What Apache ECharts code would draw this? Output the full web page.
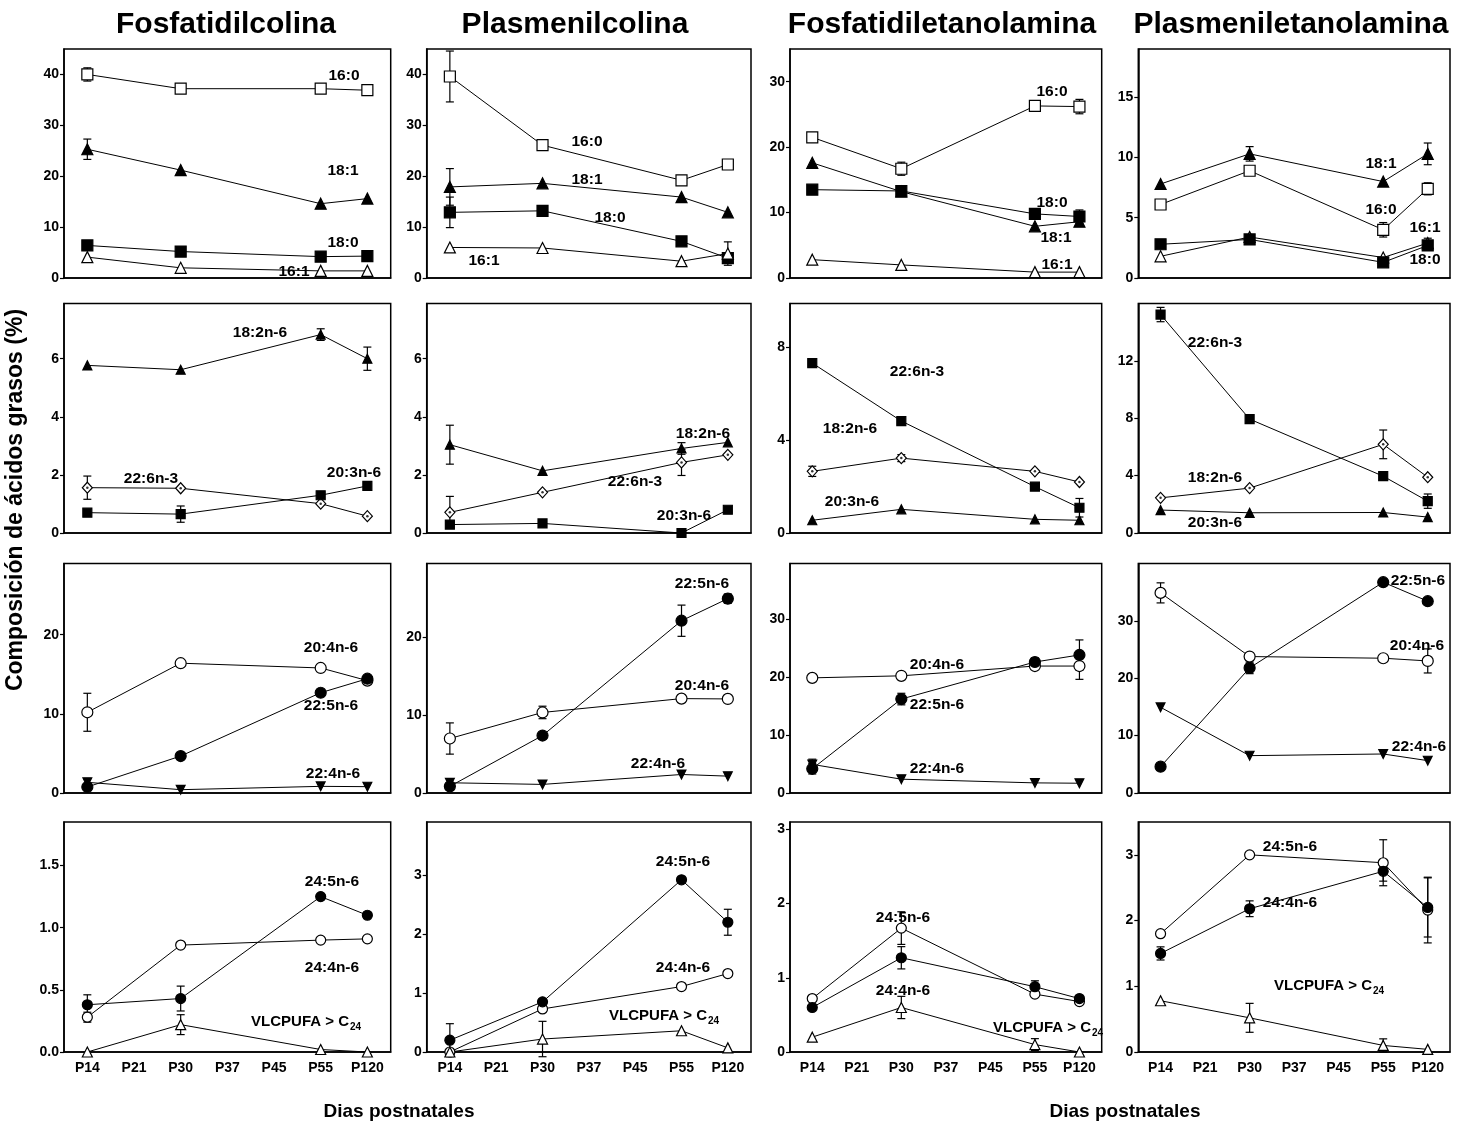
<!DOCTYPE html>
<html>
<head>
<meta charset="utf-8">
<title>Composición de ácidos grasos</title>
<script src="https://cdn.jsdelivr.net/npm/echarts@6/dist/echarts.min.js"></script>
<style>
  html, body { margin: 0; padding: 0; background: #fff; }
  #chart { width: 1462px; height: 1127px; }
</style>
</head>
<body>
<div id="chart"></div>
<script>
// eje x: todos los días, pero solo se midió en P14, P30, P55 y P120
const days = ['P14', 'P21', 'P30', 'P37', 'P45', 'P55', 'P120'];
const sampleIdx = [0, 2, 5, 6];

// Fosfatidilcolina
const pc16_0 = [40.0, 37.2, 37.2, 36.9], pc16_0Err = [1.3, 0, 0, 0];
const pc18_1 = [25.3, 21.2, 14.6, 15.6], pc18_1Err = [2.0, 0, 0, 0];
const pc18_0 = [6.4, 5.2, 4.2, 4.3];
const pc16_1 = [4.1, 2.0, 1.4, 1.4];
const pc18_2 = [5.77, 5.62, 6.83, 6.0], pc18_2Err = [0, 0, 0.2, 0.4];
const pc22_6 = [1.56, 1.54, 1.01, 0.58], pc22_6Err = [0.4, 0, 0, 0];
const pc20_3 = [0.70, 0.65, 1.30, 1.62], pc20_3Err = [0, 0.28, 0, 0];
const pc20_4 = [10.2, 16.4, 15.8, 14.2], pc20_4Err = [2.4, 0, 0, 0];
const pc22_5 = [0.76, 4.67, 12.67, 14.44];
const pc22_4 = [1.35, 0.42, 0.84, 0.80], pc22_4Err = [0.5, 0, 0, 0];
const pc24_5 = [0.38, 0.43, 1.25, 1.10], pc24_5Err = [0.08, 0.10, 0, 0];
const pc24_4 = [0.28, 0.86, 0.90, 0.91], pc24_4Err = [0.04, 0, 0, 0];
const pcVlc = [0.0, 0.22, 0.02, 0.0], pcVlcErr = [0, 0.08, 0, 0];

// Plasmenilcolina
const plc16_0 = [39.6, 26.1, 19.2, 22.3], plc16_0Err = [5.0, 0, 0, 0];
const plc18_1 = [17.9, 18.6, 15.9, 12.9], plc18_1Err = [3.6, 0, 0, 0];
const plc18_0 = [12.9, 13.2, 7.2, 3.9], plc18_0Err = [3.0, 0, 0, 0];
const plc16_1 = [6.0, 5.9, 3.3, 4.8], plc16_1Err = [0, 0, 0, 2.3];
const plc18_2 = [3.04, 2.14, 2.91, 3.12], plc18_2Err = [0.67, 0, 0.2, 0];
const plc22_6 = [0.71, 1.40, 2.43, 2.69], plc22_6Err = [0.55, 0, 0.45, 0];
const plc20_3 = [0.29, 0.33, 0.0, 0.80], plc20_3Err = [0.1, 0, 0, 0];
const plc22_5 = [0.85, 7.36, 22.07, 24.9], plc22_5Err = [0, 0, 2.0, 0.6];
const plc20_4 = [6.98, 10.32, 12.09, 12.05], plc20_4Err = [2.0, 0.8, 0, 0];
const plc22_4 = [1.31, 1.10, 2.37, 2.16];
const plc24_5 = [0.2, 0.85, 2.92, 2.2], plc24_5Err = [0.28, 0, 0, 0.22];
const plc24_4 = [0.0, 0.73, 1.11, 1.33];
const plcVlc = [0.0, 0.22, 0.36, 0.07], plcVlcErr = [0, 0.3, 0, 0];

// Fosfatidiletanolamina
const pe16_0 = [21.5, 16.7, 26.3, 26.2], pe16_0Err = [0, 1.0, 0.6, 1.1];
const pe18_1 = [17.6, 13.2, 7.9, 8.6];
const pe18_0 = [13.5, 13.3, 9.8, 9.4], pe18_0Err = [0, 0, 0, 1.0];
const pe16_1 = [2.8, 2.0, 0.9, 0.9];
const pe22_6 = [7.33, 4.83, 2.0, 1.09], pe22_6Err = [0, 0, 0, 0.4];
const pe18_2 = [2.66, 3.23, 2.66, 2.2], pe18_2Err = [0.22, 0.15, 0, 0];
const pe20_3 = [0.55, 1.02, 0.59, 0.55];
const pe20_4 = [19.92, 20.27, 21.96, 21.96], pe20_4Err = [0, 0, 0, 2.3];
const pe22_5 = [4.19, 16.25, 22.66, 23.88], pe22_5Err = [0.9, 1.0, 0.7, 2.6];
const pe22_4 = [4.95, 2.39, 1.75, 1.69], pe22_4Err = [0.9, 0, 0, 0];
const pe24_5 = [0.6, 1.27, 0.88, 0.72], pe24_5Err = [0, 0.15, 0.08, 0];
const pe24_4 = [0.72, 1.67, 0.78, 0.68], pe24_4Err = [0, 0.22, 0, 0];
const peVlc = [0.2, 0.6, 0.1, 0.0], peVlcErr = [0, 0.15, 0.08, 0];

// Plasmeniletanolamina
const ple18_1 = [7.8, 10.3, 8.0, 10.3], ple18_1Err = [0, 0.6, 0, 0.9];
const ple16_0 = [6.1, 8.9, 4.0, 7.4], ple16_0Err = [0, 0, 0.6, 0.5];
const ple18_0 = [2.8, 3.2, 1.3, 2.7];
const ple16_1 = [1.8, 3.4, 1.7, 2.9], ple16_1Err = [0, 0, 0, 0.4];
const ple22_6 = [15.23, 7.94, 3.96, 2.22], ple22_6Err = [0.5, 0, 0, 0.5];
const ple18_2 = [2.45, 3.13, 6.18, 3.89], ple18_2Err = [0, 0, 1.0, 0];
const ple20_3 = [1.6, 1.41, 1.43, 1.11];
const ple20_4 = [34.88, 23.78, 23.49, 23.02], ple20_4Err = [1.75, 0, 0.6, 2.1];
const ple22_5 = [4.59, 21.8, 36.74, 33.43], ple22_5Err = [0, 1.0, 0, 0];
const ple22_4 = [14.94, 6.51, 6.8, 5.64];
const ple24_5 = [1.5, 2.18, 2.75, 2.2], ple24_5Err = [0.1, 0.12, 0.15, 0.45];
const ple24_4 = [1.8, 3.0, 2.88, 2.16], ple24_4Err = [0, 0, 0.35, 0.5];
const pleVlc = [0.78, 0.52, 0.1, 0.04], pleVlcErr = [0, 0.22, 0.1, 0];

// escalas del eje y (por columna, fila 1..4)
const pcTicks = [[0, 10, 20, 30, 40], [0, 2, 4, 6], [0, 10, 20], [0, 0.5, 1, 1.5]];
const plcTicks = [[0, 10, 20, 30, 40], [0, 2, 4, 6], [0, 10, 20], [0, 1, 2, 3]];
const peTicks = [[0, 10, 20, 30], [0, 4, 8], [0, 10, 20, 30], [0, 1, 2, 3]];
const pleTicks = [[0, 5, 10, 15], [0, 4, 8, 12], [0, 10, 20, 30], [0, 1, 2, 3]];
const pcMax = [45, 7.9, 29, 1.85];
const plcMax = [45, 7.9, 29.4, 3.9];
const peMax = [35, 9.9, 39.7, 3.1];
const pleMax = [19, 16, 40, 3.5];

const titles = ['Fosfatidilcolina', 'Plasmenilcolina', 'Fosfatidiletanolamina', 'Plasmeniletanolamina'];

// etiquetas de cada curva (texto, x, y en px)
const notes = [
  ['16:0', 344, 76], ['18:1', 343, 171], ['18:0', 343, 243], ['16:1', 294, 272],
  ['16:0', 587, 142], ['18:1', 587, 180], ['18:0', 610, 218], ['16:1', 484, 261],
  ['16:0', 1052, 92], ['18:0', 1052, 203], ['18:1', 1056, 238], ['16:1', 1057, 265],
  ['18:1', 1381, 164], ['16:0', 1381, 210], ['16:1', 1425, 228], ['18:0', 1425, 260],
  ['18:2n-6', 260, 333], ['22:6n-3', 151, 479], ['20:3n-6', 354, 473],
  ['18:2n-6', 703, 434], ['22:6n-3', 635, 482], ['20:3n-6', 684, 516],
  ['22:6n-3', 917, 372], ['18:2n-6', 850, 429], ['20:3n-6', 852, 502],
  ['22:6n-3', 1215, 343], ['18:2n-6', 1215, 478], ['20:3n-6', 1215, 523],
  ['20:4n-6', 331, 648], ['22:5n-6', 331, 706], ['22:4n-6', 333, 774],
  ['22:5n-6', 702, 584], ['20:4n-6', 702, 686], ['22:4n-6', 658, 764],
  ['20:4n-6', 937, 665], ['22:5n-6', 937, 705], ['22:4n-6', 937, 769],
  ['22:5n-6', 1418, 581], ['20:4n-6', 1417, 646], ['22:4n-6', 1419, 747],
  ['24:5n-6', 332, 882], ['24:4n-6', 332, 968],
  ['24:5n-6', 683, 862], ['24:4n-6', 683, 968],
  ['24:5n-6', 903, 918], ['24:4n-6', 903, 991],
  ['24:5n-6', 1290, 847], ['24:4n-6', 1290, 903]
];
const vlcNotes = [[349, 1022], [707, 1016], [1091, 1028], [1372, 986]];

// marco de cada panel
const colBox = [{ l: 64, r: 390.7 }, { l: 426.7, r: 751 }, { l: 790, r: 1101.7 }, { l: 1138.3, r: 1450 }];
const rowBox = [{ t: 49, b: 278 }, { t: 303.5, b: 533 }, { t: 563.5, b: 793 }, { t: 822, b: 1052 }];
const rowSymbol = [11, 9, 11, 10];

const marks = {
  openSquare: { symbol: 'rect', fill: '#fff' },
  square: { symbol: 'rect', fill: '#000' },
  triangle: { symbol: 'triangle', fill: '#000' },
  openTriangle: { symbol: 'triangle', fill: '#fff' },
  circle: { symbol: 'circle', fill: '#000' },
  openCircle: { symbol: 'circle', fill: '#fff' },
  downTriangle: { symbol: 'triangle', fill: '#000', rotate: 180, scale: 0.8 },
  diamond: { symbol: 'diamond', fill: '#fff', dot: true }
};

const panels = [
  { col: 0, row: 0, lines: [[pc16_0, pc16_0Err, 'openSquare'], [pc18_1, pc18_1Err, 'triangle'], [pc18_0, null, 'square'], [pc16_1, null, 'openTriangle']] },
  { col: 1, row: 0, lines: [[plc16_0, plc16_0Err, 'openSquare'], [plc18_1, plc18_1Err, 'triangle'], [plc18_0, plc18_0Err, 'square'], [plc16_1, plc16_1Err, 'openTriangle']] },
  { col: 2, row: 0, lines: [[pe16_0, pe16_0Err, 'openSquare'], [pe18_1, null, 'triangle'], [pe18_0, pe18_0Err, 'square'], [pe16_1, null, 'openTriangle']] },
  { col: 3, row: 0, lines: [[ple18_1, ple18_1Err, 'triangle'], [ple16_0, ple16_0Err, 'openSquare'], [ple16_1, ple16_1Err, 'openTriangle'], [ple18_0, null, 'square']] },
  { col: 0, row: 1, lines: [[pc18_2, pc18_2Err, 'triangle'], [pc22_6, pc22_6Err, 'diamond'], [pc20_3, pc20_3Err, 'square']] },
  { col: 1, row: 1, lines: [[plc18_2, plc18_2Err, 'triangle'], [plc22_6, plc22_6Err, 'diamond'], [plc20_3, plc20_3Err, 'square']] },
  { col: 2, row: 1, lines: [[pe22_6, pe22_6Err, 'square'], [pe18_2, pe18_2Err, 'diamond'], [pe20_3, null, 'triangle']] },
  { col: 3, row: 1, lines: [[ple22_6, ple22_6Err, 'square'], [ple18_2, ple18_2Err, 'diamond'], [ple20_3, null, 'triangle']] },
  { col: 0, row: 2, lines: [[pc20_4, pc20_4Err, 'openCircle'], [pc22_5, null, 'circle'], [pc22_4, pc22_4Err, 'downTriangle']] },
  { col: 1, row: 2, lines: [[plc20_4, plc20_4Err, 'openCircle'], [plc22_5, plc22_5Err, 'circle'], [plc22_4, null, 'downTriangle']] },
  { col: 2, row: 2, lines: [[pe20_4, pe20_4Err, 'openCircle'], [pe22_5, pe22_5Err, 'circle'], [pe22_4, pe22_4Err, 'downTriangle']] },
  { col: 3, row: 2, lines: [[ple20_4, ple20_4Err, 'openCircle'], [ple22_5, ple22_5Err, 'circle'], [ple22_4, null, 'downTriangle']] },
  { col: 0, row: 3, lines: [[pc24_4, pc24_4Err, 'openCircle'], [pc24_5, pc24_5Err, 'circle'], [pcVlc, pcVlcErr, 'openTriangle']] },
  { col: 1, row: 3, lines: [[plc24_4, null, 'openCircle'], [plc24_5, plc24_5Err, 'circle'], [plcVlc, plcVlcErr, 'openTriangle']] },
  { col: 2, row: 3, lines: [[pe24_4, pe24_4Err, 'openCircle'], [pe24_5, pe24_5Err, 'circle'], [peVlc, peVlcErr, 'openTriangle']] },
  { col: 3, row: 3, lines: [[ple24_4, ple24_4Err, 'openCircle'], [ple24_5, ple24_5Err, 'circle'], [pleVlc, pleVlcErr, 'openTriangle']] }
];
const colTicks = [pcTicks, plcTicks, peTicks, pleTicks];
const colMax = [pcMax, plcMax, peMax, pleMax];

const FONT = '"Liberation Sans", Arial, sans-serif';
const black = { color: '#000', width: 1.5 };

function renderErr(params, api) {
  const x = api.value(0), v = api.value(1), e = api.value(2);
  const hi = api.coord([x, v + e]);
  const lo = api.coord([x, v - e]);
  const w = 4, st = { stroke: '#000', lineWidth: 1.2 };
  return {
    type: 'group',
    children: [
      { type: 'line', shape: { x1: hi[0], y1: hi[1], x2: lo[0], y2: lo[1] }, style: st },
      { type: 'line', shape: { x1: hi[0] - w, y1: hi[1], x2: hi[0] + w, y2: hi[1] }, style: st },
      { type: 'line', shape: { x1: lo[0] - w, y1: lo[1], x2: lo[0] + w, y2: lo[1] }, style: st }
    ]
  };
}

const grids = [], xAxes = [], yAxes = [], series = [];
panels.forEach(function (p, k) {
  const c = colBox[p.col], r = rowBox[p.row];
  const ticks = colTicks[p.col][p.row];
  const decimals = ticks.some(t => t % 1 !== 0) ? 1 : 0;
  grids.push({
    left: c.l, top: r.t, width: c.r - c.l, height: r.b - r.t,
    show: true, borderColor: '#000', borderWidth: 1.5, backgroundColor: 'transparent'
  });
  xAxes.push({
    gridIndex: k, type: 'category', data: days, boundaryGap: true,
    axisLine: { lineStyle: black },
    axisTick: { inside: true, length: 5, alignWithLabel: true, interval: 0, lineStyle: { color: '#000', width: 1.2 } },
    axisLabel: { show: p.row === 3, interval: 0, color: '#000', fontWeight: 'bold', fontSize: 14, fontFamily: FONT, margin: 9 },
    splitLine: { show: false }
  });
  yAxes.push({
    gridIndex: k, type: 'value', min: 0, max: colMax[p.col][p.row],
    axisLine: { show: true, lineStyle: black },
    axisTick: { show: true, length: 4, customValues: ticks, lineStyle: { color: '#000', width: 1.2 } },
    axisLabel: {
      customValues: ticks, color: '#000', fontWeight: 'bold', fontSize: 14, fontFamily: FONT, margin: 5,
      formatter: v => v.toFixed(decimals)
    },
    splitLine: { show: false }
  });

  // barras de error, debajo de los símbolos
  const errData = [];
  p.lines.forEach(function (ln) {
    if (!ln[1]) return;
    ln[0].forEach(function (v, i) {
      if (ln[1][i] > 0) errData.push([sampleIdx[i], v, ln[1][i]]);
    });
  });
  series.push({
    type: 'custom', xAxisIndex: k, yAxisIndex: k, renderItem: renderErr,
    data: errData, z: 2, silent: true, animation: false
  });

  p.lines.forEach(function (ln) {
    const m = marks[ln[2]];
    const size = rowSymbol[p.row] * (m.scale || 1);
    const pts = ln[0].map((v, i) => [sampleIdx[i], v]);
    series.push({
      type: 'line', xAxisIndex: k, yAxisIndex: k, data: pts,
      symbol: m.symbol, symbolSize: m.symbol === 'diamond' ? [size + 1, size + 2] : size,
      symbolRotate: m.rotate || 0, showSymbol: true, showAllSymbol: true,
      lineStyle: { color: '#000', width: 1 },
      itemStyle: { color: m.fill, borderColor: '#000', borderWidth: 1.2 },
      emphasis: { disabled: true }, silent: true, z: 3, animation: false
    });
    if (m.dot) {
      series.push({
        type: 'scatter', xAxisIndex: k, yAxisIndex: k, data: pts,
        symbol: 'circle', symbolSize: 2.5, itemStyle: { color: '#000' },
        silent: true, z: 4, animation: false
      });
    }
  });
});

const graphics = [];
titles.forEach(function (t, i) {
  const cx = [226, 575, 942, 1291][i];
  graphics.push({ type: 'text', x: cx, y: 25, style: { text: t, font: 'bold 30px ' + FONT, fill: '#000', align: 'center', verticalAlign: 'middle' } });
});
notes.forEach(function (n) {
  graphics.push({ type: 'text', x: n[1], y: n[2], style: { text: n[0], font: 'bold 15.5px ' + FONT, fill: '#000', align: 'center', verticalAlign: 'middle' } });
});
vlcNotes.forEach(function (n) {
  graphics.push({ type: 'text', x: n[0], y: n[1], style: { text: 'VLCPUFA > C', font: 'bold 15px ' + FONT, fill: '#000', align: 'right', verticalAlign: 'middle' } });
  graphics.push({ type: 'text', x: n[0] + 1, y: n[1] + 5, style: { text: '24', font: 'bold 10px ' + FONT, fill: '#000', align: 'left', verticalAlign: 'middle' } });
});
graphics.push({ type: 'text', x: 16, y: 500, rotation: Math.PI / 2, style: { text: 'Composición de ácidos grasos (%)', font: 'bold 23px ' + FONT, fill: '#000', align: 'center', verticalAlign: 'middle' } });
graphics.push({ type: 'text', x: 399, y: 1112, style: { text: 'Dias postnatales', font: 'bold 19px ' + FONT, fill: '#000', align: 'center', verticalAlign: 'middle' } });
graphics.push({ type: 'text', x: 1125, y: 1112, style: { text: 'Dias postnatales', font: 'bold 19px ' + FONT, fill: '#000', align: 'center', verticalAlign: 'middle' } });

const myChart = echarts.init(document.getElementById('chart'));
const option = {
  backgroundColor: '#fff',
  animation: false,
  textStyle: { fontFamily: FONT },
  grid: grids,
  xAxis: xAxes,
  yAxis: yAxes,
  series: series,
  graphic: graphics
};
myChart.setOption(option);
window.addEventListener('resize', function () {
  myChart.resize();
});
</script>
</body>
</html>
